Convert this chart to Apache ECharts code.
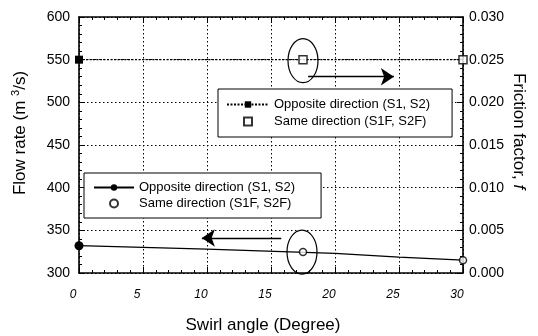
<!DOCTYPE html>
<html><head><meta charset="utf-8">
<script src="https://cdn.jsdelivr.net/npm/echarts@6/dist/echarts.min.js"></script>
<style>html,body{margin:0;padding:0;background:#fff}#c{width:538px;height:336px}</style>
</head><body><div id="c"></div>
<script>
// ---- data ----
var xTicks = [0, 5, 10, 15, 20, 25, 30];
var flowTicks = [300, 350, 400, 450, 500, 550, 600];
var frictionTicks = [0, 0.005, 0.010, 0.015, 0.020, 0.025, 0.030];
var legendLabels = ['Opposite direction (S1, S2)', 'Same direction (S1F, S2F)'];
// flow rate (left axis)
var flowOppX = [0, 10, 20, 25, 30];
var flowOppY = [332, 328, 323, 318.5, 315];
var flowSameX = [17.5, 30];
var flowSameY = [324.5, 315];
// friction factor (right axis)
var fricOppX = [0, 17.5, 30];
var fricOppY = [0.025, 0.025, 0.025];
var fricSameX = [17.5, 30];
var fricSameY = [0.025, 0.025];
// annotation arrows (data coords)
var flowArrow = [[15.8, 341], [9.6, 341]];
var fricArrow = [[17.9, 0.023], [24.6, 0.023]];

var F = '"Liberation Sans", Arial, sans-serif';
function pairs(xs, ys){ return xs.map(function(x,i){ return [x, ys[i]]; }); }
var oppFlowData = pairs(flowOppX, flowOppY).map(function(p,i){ return i===0 ? p : {value:p, symbol:'none'}; });
var oppFricData = pairs(fricOppX, fricOppY).map(function(p,i){ return i===0 ? p : {value:p, symbol:'none'}; });
var names = {qo:legendLabels[0], qs:legendLabels[1], fo:legendLabels[0], fs:legendLabels[1]};
var squareIcon = 'path://M0,0L10,0L10,10L0,10Z';

function xAx(pos){
  return {
    type:'value', position:pos, min:xTicks[0], max:xTicks[xTicks.length-1], interval:5,
    axisLine:{show:true, onZero:false, lineStyle:{color:'#000', width:1.6}},
    axisTick:{show:true, inside:true, length:6, lineStyle:{color:'#000', width:1}},
    minorTick:{show:true, splitNumber:5, length:3, lineStyle:{color:'#000', width:1}},
    splitLine:{show: pos==='bottom', lineStyle:{color:'#000', type:[1.5,2.5], width:1}},
    axisLabel:{show: pos==='bottom', color:'#000', fontFamily:F, fontSize:12, fontStyle:'italic', margin:16, padding:[0,12,0,0]}
  };
}
function arrowLine(a){
  return {silent:true, symbol:['none','arrow'], symbolSize:13, label:{show:false},
    lineStyle:{color:'#000', type:'solid', width:1.3}, itemStyle:{color:'#000'},
    data:[[{coord:a[0]},{coord:a[1]}]]};
}
var chart = echarts.init(document.getElementById('c'), null, {renderer:'canvas'});
var option = {
  backgroundColor:'#fff',
  animation:false,
  grid:{left:79, right:75, top:17, bottom:63},
  xAxis:[xAx('bottom'), xAx('top')],
  yAxis:[{
    type:'value', position:'left', min:flowTicks[0], max:flowTicks[flowTicks.length-1], interval:50,
    axisLine:{show:true, onZero:false, lineStyle:{color:'#000', width:1.6}},
    axisTick:{show:true, inside:true, length:6, lineStyle:{color:'#000'}},
    minorTick:{show:true, splitNumber:5, length:3, lineStyle:{color:'#000'}},
    splitLine:{show:true, lineStyle:{color:'#000', type:[1.5,2.5], width:1}},
    axisLabel:{color:'#000', fontFamily:F, fontSize:14, margin:9}
  },{
    type:'value', position:'right', min:frictionTicks[0], max:frictionTicks[frictionTicks.length-1], interval:0.005,
    axisLine:{show:true, onZero:false, lineStyle:{color:'#000', width:1.6}},
    axisTick:{show:true, inside:true, length:6, lineStyle:{color:'#000'}},
    minorTick:{show:true, splitNumber:5, length:3, lineStyle:{color:'#000'}},
    splitLine:{show:false},
    axisLabel:{color:'#000', fontFamily:F, fontSize:14, margin:6, formatter:function(v){ return v.toFixed(3); }}
  }],
  legend:[{
    data:[{name:'fo'},{name:'fs', icon:squareIcon}], formatter:function(n){ return names[n]; },
    orient:'vertical', left:218, top:89, itemWidth:42, itemHeight:8, itemGap:4,
    padding:[9, 22, 9, 8], borderColor:'#000', borderWidth:1, backgroundColor:'#fff',
    textStyle:{color:'#000', fontFamily:F, fontSize:13}, selectedMode:false
  },{
    data:['qo','qs'], formatter:function(n){ return names[n]; },
    orient:'vertical', left:84, top:173, itemWidth:40, itemHeight:8, itemGap:3,
    padding:[8, 26, 8, 9], borderColor:'#000', borderWidth:1, backgroundColor:'#fff',
    textStyle:{color:'#000', fontFamily:F, fontSize:13}, selectedMode:false
  }],
  series:[{
    name:'qo', type:'line', xAxisIndex:0, yAxisIndex:0, data:oppFlowData,
    symbol:'circle', symbolSize:9, showSymbol:true,
    lineStyle:{color:'#000', width:1.3}, itemStyle:{color:'#000'},
    markLine:arrowLine(flowArrow), z:3
  },{
    name:'qs', type:'scatter', xAxisIndex:0, yAxisIndex:0, data:pairs(flowSameX, flowSameY),
    symbol:'circle', symbolSize:7, itemStyle:{color:'#fff', borderColor:'#000', borderWidth:1.5}, z:4
  },{
    name:'fo', type:'line', xAxisIndex:0, yAxisIndex:1, data:oppFricData,
    symbol:'rect', symbolSize:8, showSymbol:true,
    lineStyle:{color:'#000', width:1.3, type:[2,1.5]}, itemStyle:{color:'#000'},
    markLine:arrowLine(fricArrow), z:3
  },{
    name:'fs', type:'scatter', xAxisIndex:0, yAxisIndex:1, data:pairs(fricSameX, fricSameY),
    symbol:'rect', symbolSize:8, itemStyle:{color:'#fff', borderColor:'#000', borderWidth:1.5}, z:4
  }]
};
chart.setOption(option);

var pU = chart.convertToPixel({xAxisIndex:0, yAxisIndex:1}, [fricSameX[0], fricSameY[0]]);
var pL = chart.convertToPixel({xAxisIndex:0, yAxisIndex:0}, [flowSameX[0], flowSameY[0]]);
chart.setOption({graphic:[
  {type:'ellipse', shape:{cx:pU[0], cy:pU[1]+1, rx:15, ry:22}, style:{fill:null, stroke:'#000', lineWidth:1.2}, z:10},
  {type:'ellipse', shape:{cx:pL[0]-1, cy:pL[1], rx:15, ry:22}, style:{fill:null, stroke:'#000', lineWidth:1.2}, z:10},
  {type:'text', x:263, y:325, style:{text:'Swirl angle (Degree)', fill:'#000', font:'17px '+F, textAlign:'center', textVerticalAlign:'middle'}},
  {type:'text', x:20, y:133, rotation:Math.PI/2, style:{
    text:'{a|Flow rate (m }{s|3}{a|/s)}', textAlign:'center', textVerticalAlign:'middle',
    rich:{a:{fontSize:17, fontFamily:F, fill:'#000'}, s:{fontSize:11, fontFamily:F, fill:'#000', padding:[0,0,9,0]}}}},
  {type:'text', x:519, y:131, rotation:-Math.PI/2, style:{
    text:'{a|Friction factor, }{i|f}', textAlign:'center', textVerticalAlign:'middle',
    rich:{a:{fontSize:17, fontFamily:F, fill:'#000'}, i:{fontSize:17, fontFamily:F, fontStyle:'italic', fill:'#000'}}}}
]});
</script></body></html>
